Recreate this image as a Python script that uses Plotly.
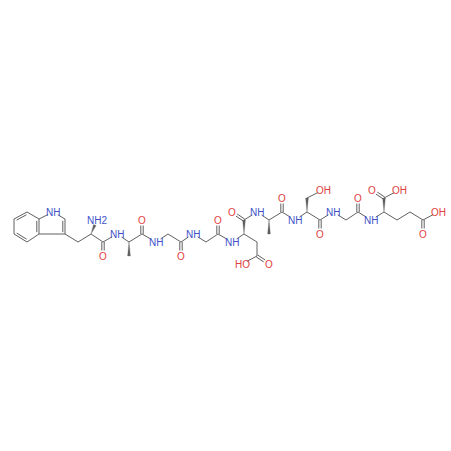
import plotly.graph_objects as go

# atoms: name -> pixel position
atom_names = ["c1","c2","c3","c4","c5","c6","n1","c7","c8","c9","c10","n2","c11","o1","n3","c12","c13","c14","o2",
              "n4","c15","c16","o3","n5","c17","c18","o4","n6","c19","c20","o5","n7","c21","c22","c23","o6","cb","c24","o7","oh1",
              "n8","c25","c26","oh2","c27","o8","n9","c28","c29","o9","n10","c30","c31","o10","oh3","c32","c33","c34","o11","oh4"]
atom_x = [14,27,39,39,27,14,53,65,65,78,91,97,103,103,117,129,129,142,142,
          156,168,181,181,193,206,218,218,232,244,244,232,257,269,269,282,282,257,257,269,242,
          295,307,307,323,320,320,333,346,358,358,371,384,384,372,399,397,410,423,423,438]
atom_y = [219,212,219,234,242,234,212,219,234,242,234,220,242,256,234,242,256,234,220,
          242,234,242,256,234,242,234,220,242,234,220,212,212,220,234,212,198,242,256,264,264,
          220,212,198,190,220,234,212,220,212,198,220,212,198,190,190,220,212,220,234,212]

atom_labels = {"n1":"NH","n2":"NH2","o1":"O","n3":"NH","o2":"O","n4":"NH","o3":"O","n5":"NH","o4":"O","n6":"NH",
               "o5":"O","n7":"NH","o6":"O","o7":"O","oh1":"HO","n8":"NH","oh2":"OH","o8":"O","n9":"NH","o9":"O",
               "n10":"NH","o10":"O","oh3":"OH","o11":"O","oh4":"OH"}

single_bonds = [("c2","c3"),("c4","c5"),("c6","c1"),("c3","n1"),("n1","c7"),("c8","c4"),("c8","c9"),("c9","c10"),
                ("c10","c11"),("c11","n3"),("n3","c12"),("c12","c14"),("c14","n4"),("n4","c15"),("c15","c16"),
                ("c16","n5"),("n5","c17"),("c17","c18"),("c18","n6"),("n6","c19"),("c20","n7"),("n7","c21"),("c21","c23"),
                ("c19","cb"),("cb","c24"),("c24","oh1"),("c23","n8"),("n8","c25"),("c26","oh2"),("c25","c27"),("c27","n9"),
                ("n9","c28"),("c28","c29"),("c29","n10"),("n10","c30"),("c31","oh3"),("c30","c32"),("c32","c33"),
                ("c33","c34"),("c34","oh4")]
# (a, b, side) side 0 = centred pair, +1/-1 = second line on one side
double_bonds = [("c1","c2",1),("c3","c4",1),("c5","c6",1),("c7","c8",1),("c11","o1",0),("c14","o2",0),("c16","o3",0),
                ("c18","o4",0),("c20","o5",0),("c23","o6",0),("c24","o7",0),("c27","o8",0),("c29","o9",0),("c31","o10",0),
                ("c34","o11",0)]
wedge_bonds = [("c10","n2"),("c12","c13"),("c19","c20"),("c21","c22"),("c25","c26"),("c30","c31")]

bond_color = "#606060"
n_color = "#4050c8"
o_color = "#e04040"
pos = {n: (x, y) for n, x, y in zip(atom_names, atom_x, atom_y)}


def trimmed(a, b):
    (x0, y0), (x1, y1) = pos[a], pos[b]
    d = ((x1 - x0) ** 2 + (y1 - y0) ** 2) ** 0.5
    ux, uy = (x1 - x0) / d, (y1 - y0) / d
    t0 = 5.5 if a in atom_labels else 0
    t1 = 5.5 if b in atom_labels else 0
    return x0 + ux * t0, y0 + uy * t0, x1 - ux * t1, y1 - uy * t1, -uy, ux


xs, ys = [], []
for a, b in single_bonds:
    x0, y0, x1, y1, _, _ = trimmed(a, b)
    xs += [x0, x1, None]
    ys += [y0, y1, None]
for a, b, side in double_bonds:
    x0, y0, x1, y1, nx, ny = trimmed(a, b)
    if side == 0:
        for s in (-1.2, 1.2):
            xs += [x0 + nx * s, x1 + nx * s, None]
            ys += [y0 + ny * s, y1 + ny * s, None]
    else:
        xs += [x0, x1, None]
        ys += [y0, y1, None]
        xs += [x0 + nx * side * 2.2 + (x1 - x0) * 0.12, x1 + nx * side * 2.2 - (x1 - x0) * 0.12, None]
        ys += [y0 + ny * side * 2.2 + (y1 - y0) * 0.12, y1 + ny * side * 2.2 - (y1 - y0) * 0.12, None]

fig = go.Figure()
fig.add_trace(go.Scatter(x=xs, y=ys, mode="lines", line=dict(color=bond_color, width=1), hoverinfo="skip"))

# solid wedges, narrow end at the stereo centre
wx, wy = [], []
for a, b in wedge_bonds:
    x0, y0, x1, y1, nx, ny = trimmed(a, b)
    wx += [x0, x1 + nx * 1.4, x1 - nx * 1.4, x0, None]
    wy += [y0, y1 + ny * 1.4, y1 - ny * 1.4, y0, None]
fig.add_trace(go.Scatter(x=wx, y=wy, mode="lines", fill="toself", fillcolor=bond_color,
                         line=dict(color=bond_color, width=0.3), hoverinfo="skip"))

for name, label in atom_labels.items():
    color = n_color if name.startswith("n") else o_color
    fig.add_annotation(x=pos[name][0], y=pos[name][1], text=label, showarrow=False,
                       font=dict(family="Liberation Sans", size=10, color=color))

fig.update_layout(width=451, height=451, margin=dict(l=0, r=0, t=0, b=0), showlegend=False,
                  paper_bgcolor="white", plot_bgcolor="white",
                  xaxis=dict(range=[0, 451], visible=False),
                  yaxis=dict(range=[451, 0], visible=False))
# page body has a default margin that would push the picture off by 8px
fig.write_html("out.html", post_script="document.body.style.margin='0';", config={"displayModeBar": False})
